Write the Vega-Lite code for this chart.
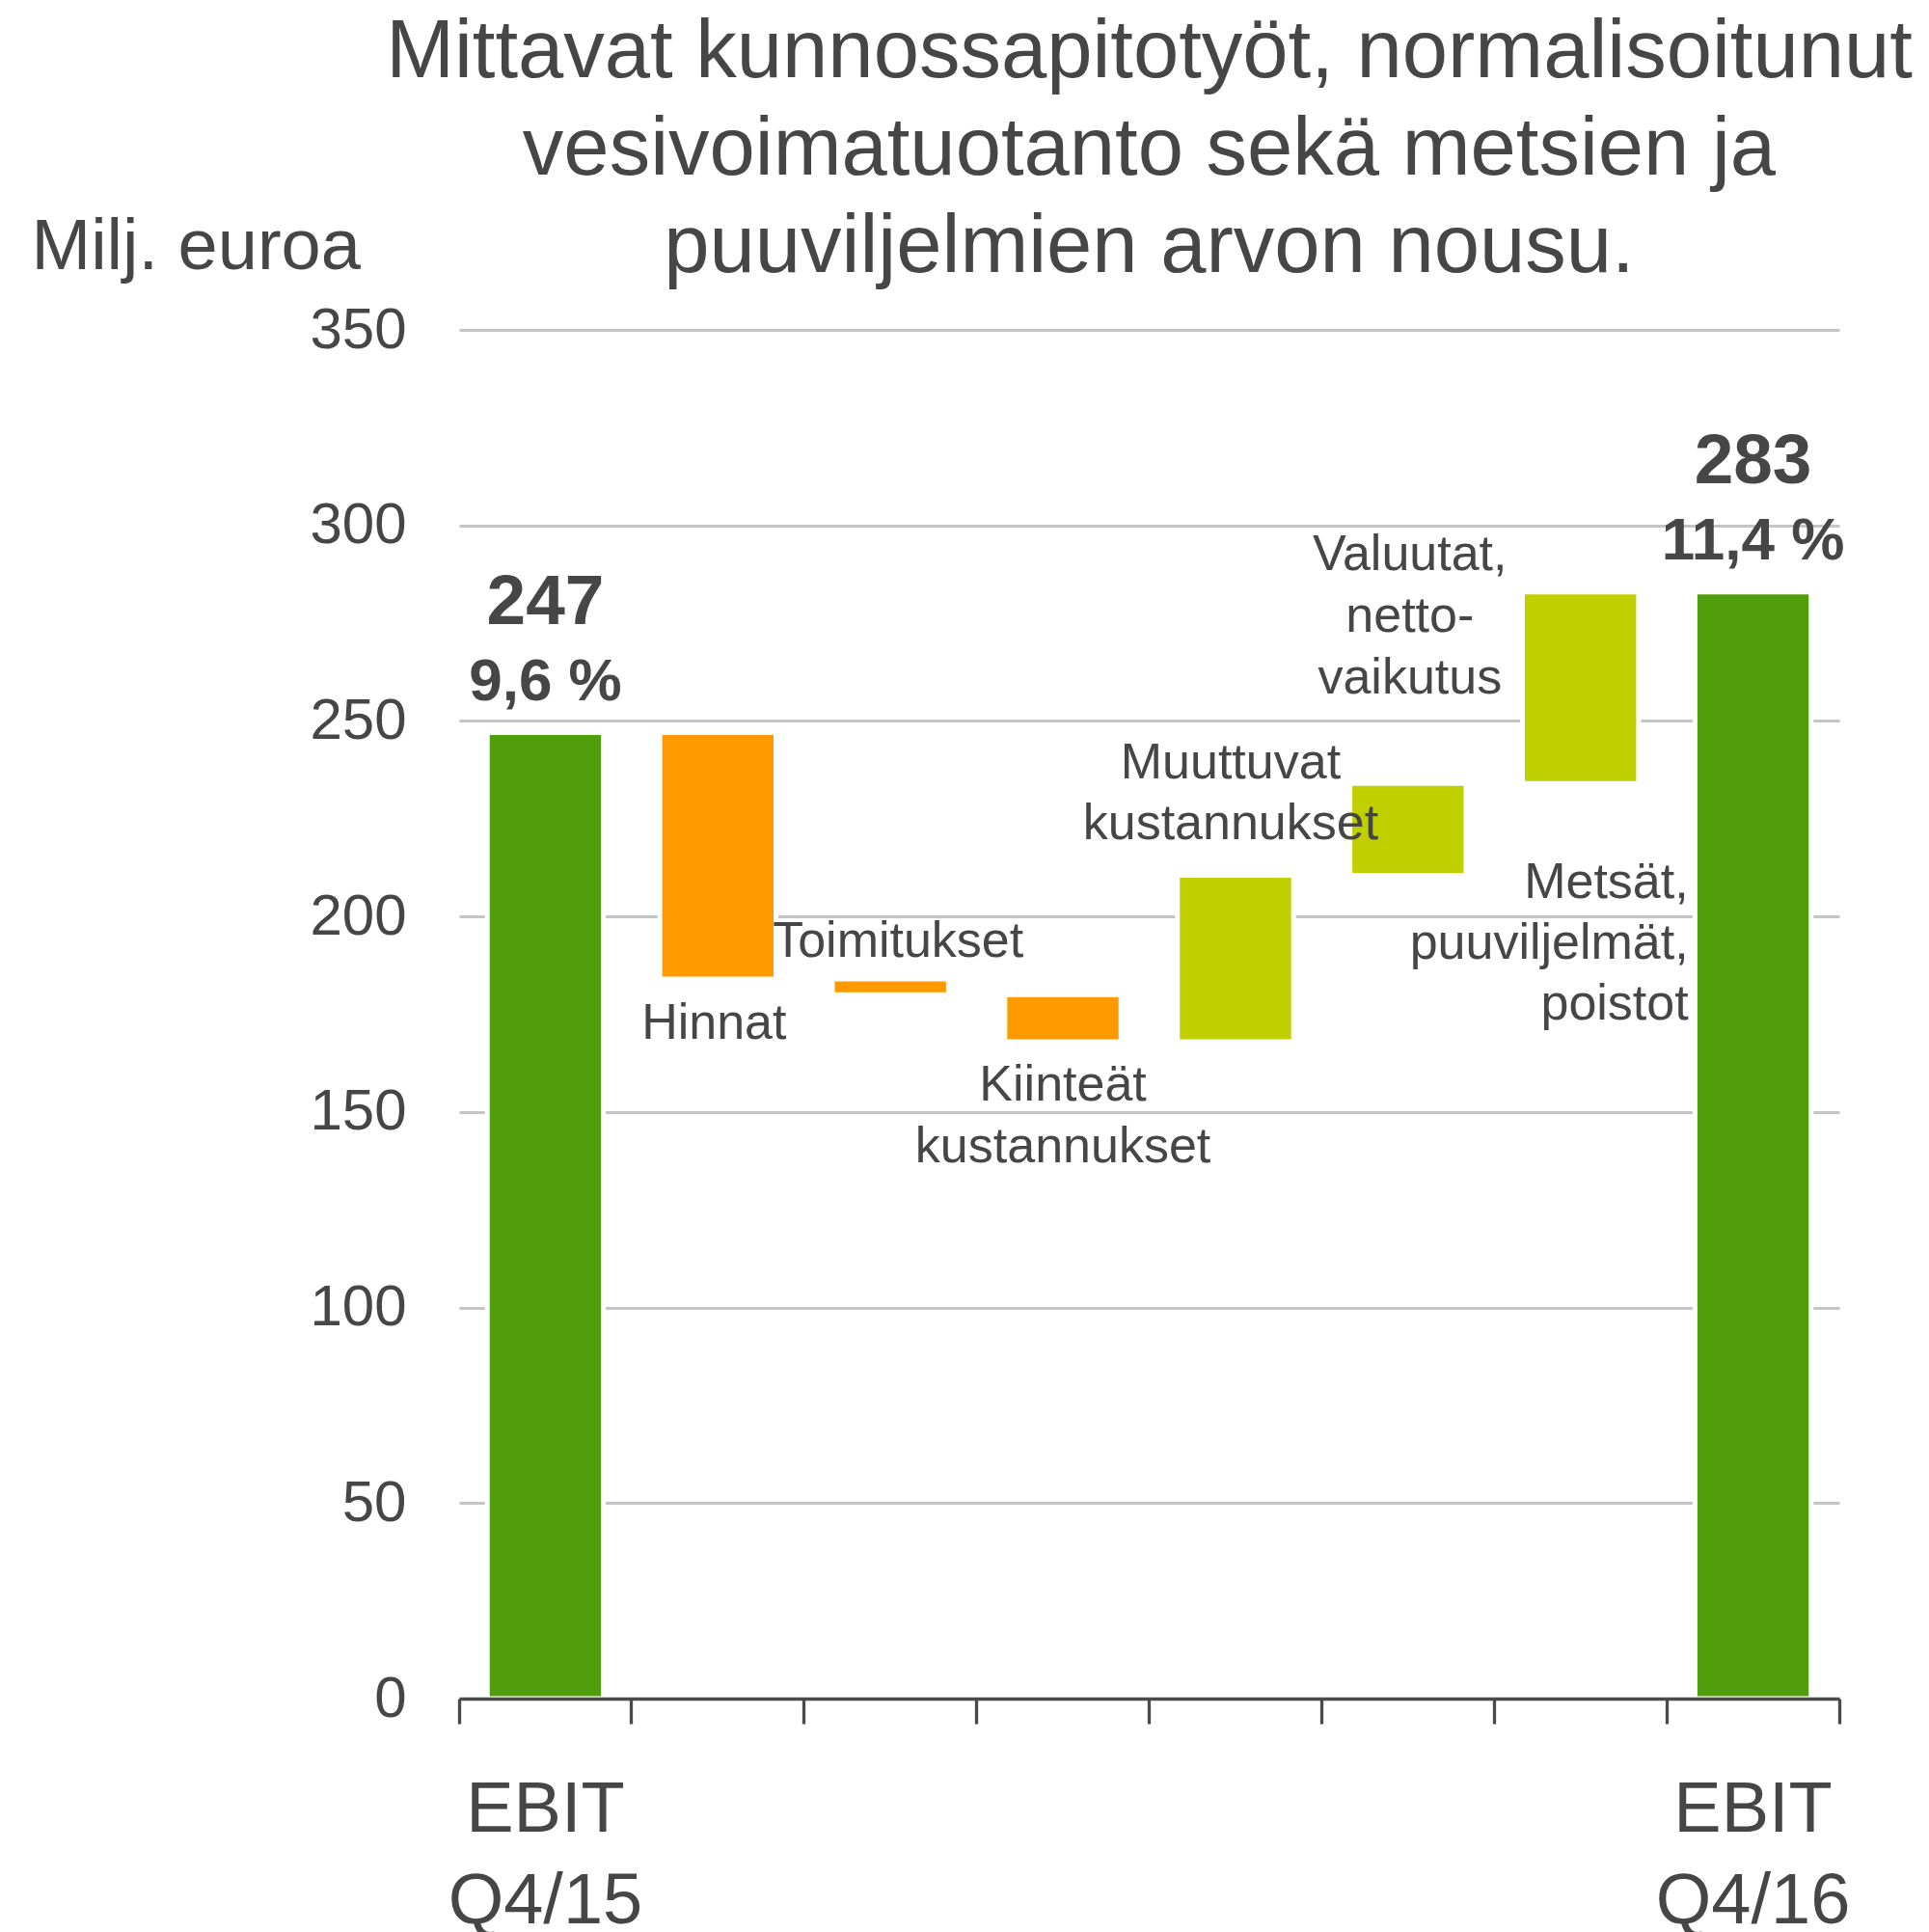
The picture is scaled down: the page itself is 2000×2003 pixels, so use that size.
{
  "$schema": "https://vega.github.io/schema/vega-lite/v6.json",
  "width": 1431,
  "height": 1419,
  "autosize": {"type": "none"},
  "padding": {"left": 476, "top": 342, "right": 93, "bottom": 242},
  "background": "white",
  "config": {"font": "Liberation Sans", "view": {"stroke": null}},
  "title": {
    "text": ["Mittavat kunnossapitotyöt, normalisoitunut", "vesivoimatuotanto sekä metsien ja", "puuviljelmien arvon nousu."],
    "fontSize": 85,
    "fontWeight": "normal",
    "color": "#464646",
    "lineHeight": 101,
    "anchor": "middle",
    "frame": "group",
    "offset": -81
  },
  "data": {
    "values": [
      {"cat": "EBIT Q4/15", "start": 0, "end": 247, "kind": "total", "pct": "9,6 %"},
      {"cat": "Hinnat", "start": 247, "end": 184, "kind": "neg", "lines": ["Hinnat"]},
      {"cat": "Toimitukset", "start": 184, "end": 180, "kind": "neg", "lines": ["Toimitukset"]},
      {"cat": "Kiinteät kustannukset", "start": 180, "end": 168, "kind": "neg", "lines": ["Kiinteät", "kustannukset"]},
      {"cat": "Muuttuvat kustannukset", "start": 168, "end": 210.5, "kind": "pos", "lines": ["Muuttuvat", "kustannukset"]},
      {"cat": "Valuutat, nettovaikutus", "start": 210.5, "end": 234, "kind": "pos", "lines": ["Valuutat,", "netto-", "vaikutus"]},
      {"cat": "Metsät, puuviljelmät, poistot", "start": 234, "end": 283, "kind": "pos", "lines": ["Metsät,", "puuviljelmät,", "poistot"]},
      {"cat": "EBIT Q4/16", "start": 0, "end": 283, "kind": "total", "pct": "11,4 %"}
    ]
  },
  "encoding": {
    "x": {
      "field": "cat",
      "type": "nominal",
      "sort": null,
      "scale": {"paddingInner": 0, "paddingOuter": 0},
      "axis": {
        "title": null,
        "labelAngle": 0,
        "labelExpr": "datum.label == 'EBIT Q4/15' ? ['EBIT', 'Q4/15'] : datum.label == 'EBIT Q4/16' ? ['EBIT', 'Q4/16'] : ''",
        "labelFontSize": 74,
        "labelColor": "#464646",
        "labelLineHeight": 95,
        "labelBaseline": "alphabetic",
        "labelPadding": 111,
        "labelLimit": 0,
        "tickSize": 26,
        "tickWidth": 3.3,
        "tickColor": "#4a4a4a",
        "domainColor": "#4a4a4a",
        "domainWidth": 3.4,
        "bandPosition": 1,
        "tickExtra": true,
        "zindex": 1,
        "grid": false
      }
    }
  },
  "layer": [
    {
      "mark": {"type": "bar", "stroke": "white", "strokeWidth": 5, "width": {"band": 0.673}},
      "encoding": {
        "y": {
          "field": "start",
          "type": "quantitative",
          "scale": {"domain": [0, 350], "nice": false},
          "axis": {
            "values": [0, 50, 100, 150, 200, 250, 300, 350],
            "title": "Milj. euroa",
            "titleAngle": 0,
            "titleAlign": "left",
            "titleBaseline": "alphabetic",
            "titleX": -444,
            "titleY": -64,
            "titleFontSize": 74,
            "titleFontWeight": "normal",
            "titleColor": "#464646",
            "labelFontSize": 60,
            "labelColor": "#464646",
            "labelPadding": 55,
            "ticks": false,
            "tickSize": 0,
            "domain": false,
            "grid": true,
            "gridColor": "#c4c4c4",
            "gridWidth": 3
          }
        },
        "y2": {"field": "end"},
        "color": {
          "field": "kind",
          "type": "nominal",
          "scale": {"domain": ["total", "neg", "pos"], "range": ["#519e0c", "#ff9900", "#bfcf00"]},
          "legend": null
        }
      }
    },
    {
      "transform": [{"filter": "datum.kind == 'total'"}],
      "mark": {"type": "text", "fontSize": 73, "fontWeight": "bold", "color": "#464646", "baseline": "alphabetic", "dy": -113},
      "encoding": {"y": {"field": "end", "type": "quantitative"}, "text": {"field": "end", "type": "quantitative", "format": "d"}}
    },
    {
      "transform": [{"filter": "datum.kind == 'total'"}],
      "mark": {"type": "text", "fontSize": 62, "fontWeight": "bold", "color": "#464646", "baseline": "alphabetic", "dy": -34},
      "encoding": {"y": {"field": "end", "type": "quantitative"}, "text": {"field": "pct", "type": "nominal"}}
    },
    {
      "transform": [{"filter": "datum.cat == 'Hinnat'"}],
      "mark": {"type": "text", "fontSize": 52, "color": "#464646", "baseline": "alphabetic", "lineHeight": 64, "dy": 62, "dx": -4},
      "encoding": {"y": {"field": "end", "type": "quantitative"}, "text": {"field": "lines", "type": "nominal"}}
    },
    {
      "transform": [{"filter": "datum.cat == 'Toimitukset'"}],
      "mark": {"type": "text", "fontSize": 52, "color": "#464646", "baseline": "alphabetic", "lineHeight": 64, "dy": -23, "dx": 8},
      "encoding": {"y": {"field": "start", "type": "quantitative"}, "text": {"field": "lines", "type": "nominal"}}
    },
    {
      "transform": [{"filter": "datum.cat == 'Kiinteät kustannukset'"}],
      "mark": {"type": "text", "fontSize": 52, "color": "#464646", "baseline": "alphabetic", "lineHeight": 64, "dy": 61, "dx": 0},
      "encoding": {"y": {"field": "end", "type": "quantitative"}, "text": {"field": "lines", "type": "nominal"}}
    },
    {
      "transform": [{"filter": "datum.cat == 'Muuttuvat kustannukset'"}],
      "mark": {"type": "text", "fontSize": 52, "color": "#464646", "baseline": "alphabetic", "lineHeight": 63, "dy": -101, "dx": -5},
      "encoding": {"y": {"field": "end", "type": "quantitative"}, "text": {"field": "lines", "type": "nominal"}}
    },
    {
      "transform": [{"filter": "datum.cat == 'Valuutat, nettovaikutus'"}],
      "mark": {"type": "text", "fontSize": 52, "color": "#464646", "baseline": "alphabetic", "lineHeight": 64, "dy": -221, "dx": 2},
      "encoding": {"y": {"field": "end", "type": "quantitative"}, "text": {"field": "lines", "type": "nominal"}}
    },
    {
      "transform": [{"filter": "datum.cat == 'Metsät, puuviljelmät, poistot'"}],
      "mark": {"type": "text", "fontSize": 52, "color": "#464646", "baseline": "alphabetic", "align": "right", "lineHeight": 63, "dy": 119, "dx": 112},
      "encoding": {"y": {"field": "start", "type": "quantitative"}, "text": {"field": "lines", "type": "nominal"}}
    }
  ]
}
